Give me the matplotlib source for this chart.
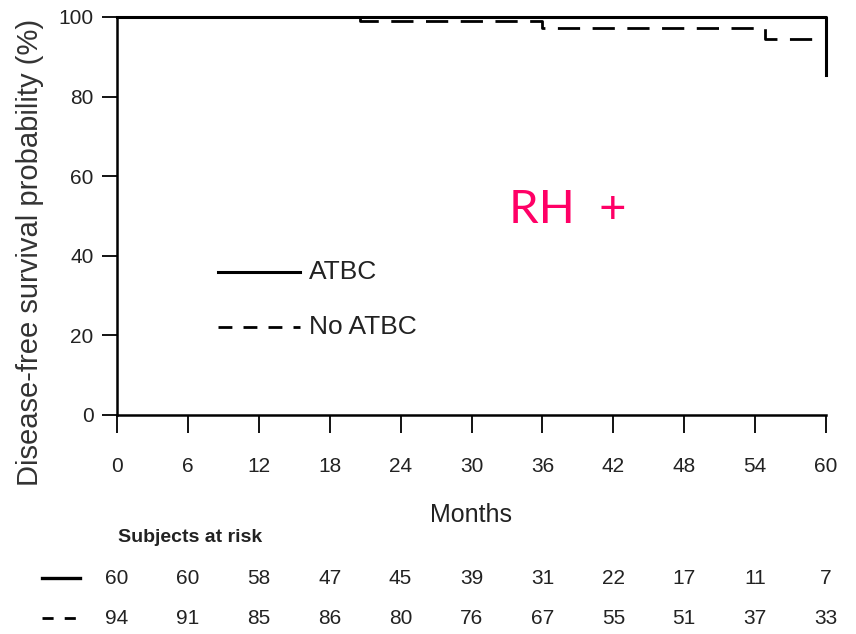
import matplotlib
matplotlib.use('Agg')
from matplotlib import pyplot as plt
from matplotlib.lines import Line2D

plt.rcParams['font.family'] = ['Liberation Sans', 'DejaVu Sans']

# survival curves (months, %)
atbc_months = [0, 60, 60]
atbc_surv = [100, 100, 85.5]
noatbc_months = [0, 20.6, 36, 54.8, 59]
noatbc_surv = [100, 98.9, 97.3, 94.5, 94.5]

month_ticks = [0, 6, 12, 18, 24, 30, 36, 42, 48, 54, 60]
surv_ticks = [0, 20, 40, 60, 80, 100]

# subjects at risk
atbc_risk = [60, 60, 58, 47, 45, 39, 31, 22, 17, 11, 7]
noatbc_risk = [94, 91, 85, 86, 80, 76, 67, 55, 51, 37, 33]

W, H = 856, 634
fx = lambda px: px / W
fy = lambda py: 1 - py / H

fig = plt.figure(figsize=(W / 100, H / 100), dpi=100)
ax = fig.add_axes([fx(117), fy(415), (826 - 117) / W, (415 - 17) / H])

ax.plot(atbc_months, atbc_surv, color='black', lw=2.2, clip_on=False)
ax.plot(noatbc_months, noatbc_surv, color='black', lw=2.0,
        linestyle=(0, (8, 4.5)), drawstyle='steps-post', clip_on=False)

ax.set_xlim(0, 60)
ax.set_ylim(0, 100)
ax.set_xticks(month_ticks)
ax.set_yticks(surv_ticks)
ax.tick_params(axis='x', length=13, width=1.3, pad=17, labelsize=15, direction='out',
               labelcolor='#222222')
ax.tick_params(axis='y', length=11, width=1.3, pad=6, labelsize=15, direction='out',
               labelcolor='#222222')
for side in ['top', 'right']:
    ax.spines[side].set_visible(False)
for side in ['left', 'bottom']:
    ax.spines[side].set_linewidth(1.8)

ax.set_xlabel('Months', fontsize=18, labelpad=20, color='#222222')
fig.text(fx(30), fy(252), 'Disease-free survival probability (%)', rotation=90,
         fontsize=21, ha='center', va='center', color='#333333')

# legend drawn inside the plot
fig.add_artist(Line2D([fx(218), fx(300)], [fy(272), fy(272)], color='black', lw=2.2))
fig.add_artist(Line2D([fx(218), fx(300)], [fy(327), fy(327)], color='black', lw=2.0,
                      linestyle=(0, (5, 4))))
fig.text(fx(309), fy(272), 'ATBC', fontsize=19, va='center', color='#222222')
fig.text(fx(309), fy(327), 'No ATBC', fontsize=19, va='center', color='#222222')

fig.text(fx(568), fy(210), 'RH  +', fontsize=34, color='#FF0066',
         family=['Lato', 'DejaVu Sans'], ha='center', va='center')

# subjects at risk table
fig.text(fx(118), fy(538), 'Subjects at risk', fontsize=14, fontweight='bold',
         va='center', color='#222222')
fig.add_artist(Line2D([fx(42), fx(80)], [fy(578), fy(578)], color='black', lw=2.4))
fig.add_artist(Line2D([fx(42), fx(80)], [fy(618), fy(618)], color='black', lw=2.0,
                      linestyle=(0, (4, 4))))
for m, a, b in zip(month_ticks, atbc_risk, noatbc_risk):
    x = ax.transData.transform((m, 0))[0] / W
    fig.text(x, fy(578), str(a), fontsize=15, ha='center', va='center', color='#222222')
    fig.text(x, fy(618), str(b), fontsize=15, ha='center', va='center', color='#222222')

fig.savefig('out.png', dpi=100)
